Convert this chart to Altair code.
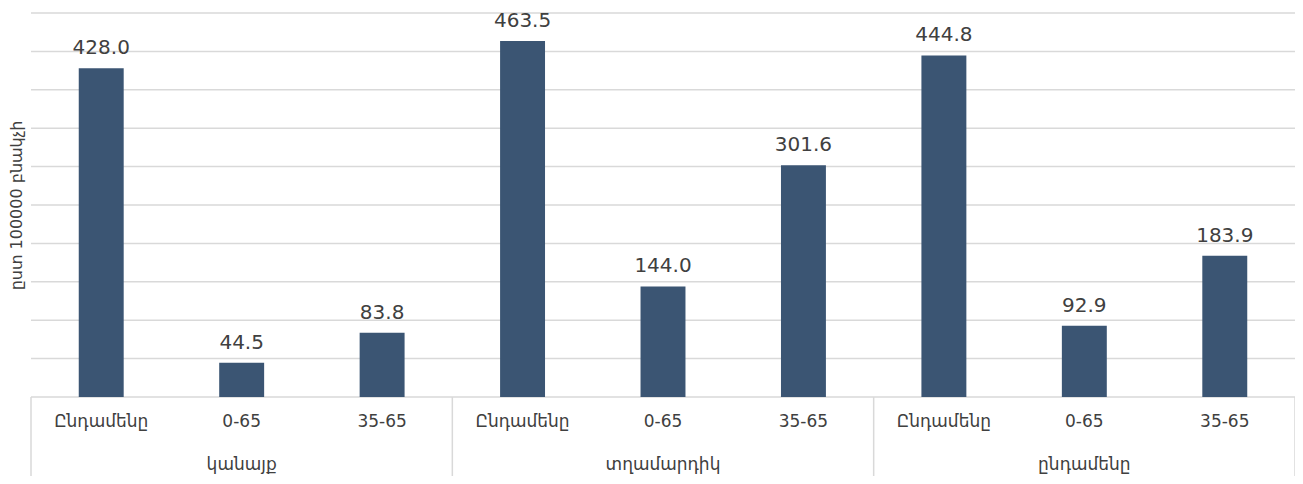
import altair as alt
import pandas as pd

groups = ["կանայք", "տղամարդիկ", "ընդամենը"]
subs = ["Ընդամենը", "0-65", "35-65"]
values_women = [428.0, 44.5, 83.8]
values_men = [463.5, 144.0, 301.6]
values_total = [444.8, 92.9, 183.9]
grid_values = [0, 50, 100, 150, 200, 250, 300, 350, 400, 450, 500]
y_title = "ըստ 100000 բնակչի"

rows = []
for g, vals in zip(groups, [values_women, values_men, values_total]):
    for s, v in zip(subs, vals):
        rows.append({"group": g, "sub": s, "key": g + "|" + s, "value": v})
df = pd.DataFrame(rows)
keys = list(df["key"])

gdf = pd.DataFrame({"group": groups})
sep_df = pd.DataFrame({"b": [0, 1, 2, 3]})
grid_df = pd.DataFrame({"g": grid_values})

FONT = "DejaVu Sans"
TXT = "#404040"
BAR = "#3B5573"
GRID = "#D9D9D9"

xk = alt.X("key:N", sort=keys, axis=None,
           scale=alt.Scale(paddingInner=0.68, paddingOuter=0.34))
yscale = alt.Scale(domain=[0, 500], nice=False)

grid = alt.Chart(grid_df).mark_rule(color=GRID, strokeWidth=1.5).encode(
    y=alt.Y("g:Q", scale=yscale,
            axis=alt.Axis(labels=False, ticks=False, domain=False, grid=False,
                          title=y_title, titleFont=FONT, titleFontSize=16,
                          titleFontWeight="normal", titleColor=TXT,
                          titleAngle=270, titleX=-15, titleY=192,
                          titleAlign="center", titleBaseline="middle")),
    x=alt.value(0), x2=alt.value(1264),
)

bars = alt.Chart(df).mark_bar(color=BAR).encode(
    x=xk,
    y=alt.Y("value:Q", scale=yscale),
)

vlabels = alt.Chart(df).mark_text(font=FONT, fontSize=20, color=TXT,
                                  baseline="alphabetic", dy=-14).encode(
    x=xk, y="value:Q", text=alt.Text("value:Q", format=".1f"))

sublabels = alt.Chart(df).mark_text(font=FONT, fontSize=17, color=TXT,
                                    baseline="middle").encode(
    x=xk, y=alt.value(409), text="sub:N")

glabels = alt.Chart(gdf).mark_text(font=FONT, fontSize=17, color=TXT,
                                   baseline="middle").encode(
    x=alt.X("group:N", sort=groups, axis=None,
            scale=alt.Scale(paddingInner=0, paddingOuter=0), bandPosition=0.5),
    y=alt.value(452), text="group:N")

seps = alt.Chart(sep_df).mark_rule(color=GRID, strokeWidth=1.5).encode(
    x=alt.X("b:Q", scale=alt.Scale(domain=[0, 3], nice=False, zero=False), axis=None),
    y=alt.value(384), y2=alt.value(466))

chart = alt.layer(grid, bars, vlabels, sublabels, glabels, seps).resolve_scale(
    x="independent"
).properties(
    width=1264, height=384,
    autosize=alt.AutoSizeParams(type="none"),
    padding={"left": 23, "top": 5, "right": 0, "bottom": 79},
    background="white",
).configure_view(stroke=None)

chart.save("out.html", embed_options={"renderer": "svg", "actions": False})
